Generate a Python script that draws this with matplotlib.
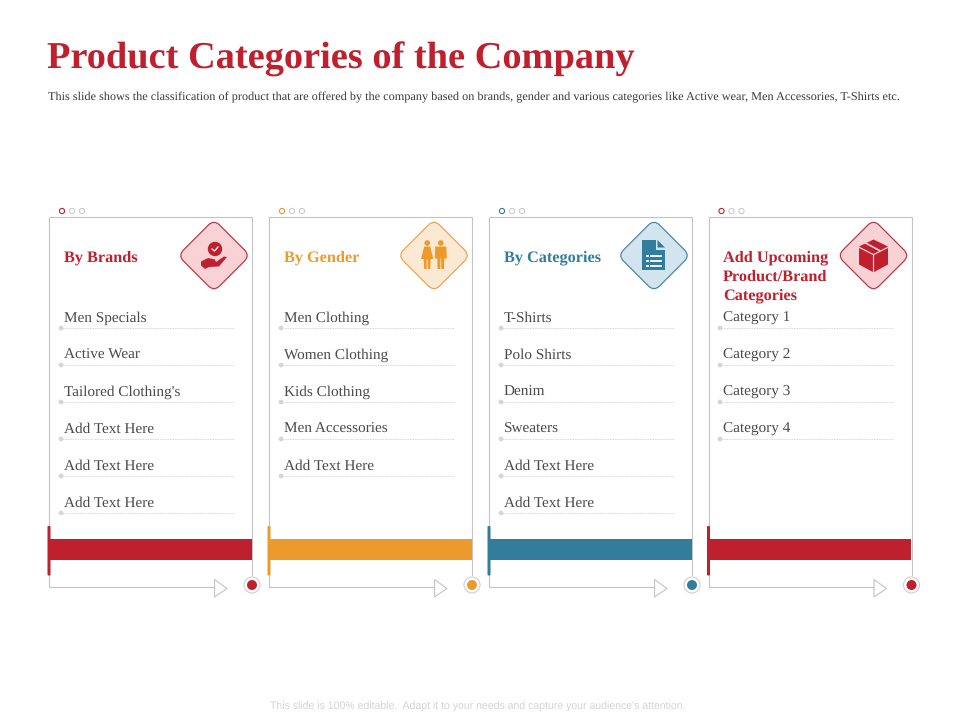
import matplotlib
matplotlib.use("Agg")
import matplotlib.pyplot as plt
from matplotlib.patches import Circle, FancyBboxPatch, Polygon, Rectangle
from matplotlib.transforms import Affine2D

plt.rcParams["text.hinting"] = "no_hinting"
plt.rcParams["text.hinting_factor"] = 8

TITLE = "Product Categories of the Company"
SUBTITLE = ("This slide shows the classification of product that are offered by the company based on brands, "
            "gender and various categories like Active wear, Men Accessories, T-Shirts etc.")
FOOTER = "This slide is 100% editable.  Adapt it to your needs and capture your audience's attention."
HEADINGS = [["By Brands"], ["By Gender"], ["By Categories"], ["Add Upcoming", "Product/Brand", "Categories"]]
ITEMS = [
    ["Men Specials", "Active Wear", "Tailored Clothing's", "Add Text Here", "Add Text Here", "Add Text Here"],
    ["Men Clothing", "Women Clothing", "Kids Clothing", "Men Accessories", "Add Text Here"],
    ["T-Shirts", "Polo Shirts", "Denim", "Sweaters", "Add Text Here", "Add Text Here"],
    ["Category 1", "Category 2", "Category 3", "Category 4"],
]
COLORS = ["#BE202E", "#ED9A2D", "#317D9B", "#BE202E"]
TINTS = ["#F8D2D5", "#FCE9D3", "#D2E5EE", "#F8D2D5"]
EDGES = ["#BE3A47", "#EDA550", "#4A89A5", "#BE3A47"]
LEFTS = [49, 269, 489, 708.5]

GREY = "#C4C4C4"
TEXT = "#4A4A4A"
SERIF = "Liberation Serif"

fig = plt.figure(figsize=(9.6, 7.2), dpi=100)
ax = fig.add_axes([0, 0, 1, 1])
ax.set_xlim(0, 960)
ax.set_ylim(720, 0)
ax.axis("off")

ax.text(47, 69, TITLE, color="#BE202E", family=SERIF, weight="bold", fontsize=27.6, va="baseline", ha="left")
ax.text(48, 100.5, SUBTITLE, color="#3A3A3A", family=SERIF, fontsize=8.85, va="baseline", ha="left")
ax.text(477.5, 707, FOOTER, color="#D4D4D4", family="Liberation Sans", fontsize=7.6, va="center", ha="center")


def icon_hand(cx, cy, c):
    ax.add_patch(Circle((cx + 1, cy - 6.5), 7.2, color=c, lw=0, zorder=5))
    ax.plot([cx - 2, cx + 0.5, cx + 4], [cy - 6.5, cy - 4.5, cy - 8.5], color="white", lw=0.9, zorder=6)
    ax.add_patch(Polygon([(cx - 13, cy + 6), (cx - 6, cy + 2.5), (cx + 1, cy + 4), (cx + 2, cy + 6.5),
                          (cx + 10, cy + 1), (cx + 13, cy + 1.5), (cx + 5, cy + 11), (cx - 5, cy + 11.5),
                          (cx - 9, cy + 13.5), (cx - 13, cy + 10)], color=c, lw=0, zorder=5))


def person(cx, cy, c, female):
    ax.add_patch(Circle((cx, cy - 12.5), 2.8, color=c, lw=0, zorder=5))
    if female:
        pts = [(cx - 3, cy - 9), (cx + 3, cy - 9), (cx + 6.2, cy + 3.5), (cx + 3.5, cy + 3.5), (cx + 3, cy + 13.5),
               (cx + .5, cy + 13.5), (cx + .5, cy + 4), (cx - .5, cy + 4), (cx - .5, cy + 13.5), (cx - 3, cy + 13.5),
               (cx - 3.5, cy + 3.5), (cx - 6.2, cy + 3.5)]
    else:
        pts = [(cx - 5.5, cy - 9), (cx + 5.5, cy - 9), (cx + 6, cy + 3), (cx + 3.5, cy + 3), (cx + 3.2, cy + 13.5),
               (cx + .5, cy + 13.5), (cx + .3, cy + 3), (cx - .3, cy + 3), (cx - .5, cy + 13.5), (cx - 3.2, cy + 13.5),
               (cx - 3.5, cy + 3), (cx - 6, cy + 3)]
    ax.add_patch(Polygon(pts, color=c, lw=0, zorder=5))


def icon_people(cx, cy, c):
    person(cx - 6.8, cy, c, True)
    person(cx + 6.8, cy, c, False)


def icon_doc(cx, cy, c):
    ax.add_patch(Polygon([(cx - 12, cy - 15.5), (cx + 1.5, cy - 15.5), (cx + 1.5, cy - 6), (cx + 11, cy - 6),
                          (cx + 11, cy + 14.5), (cx - 12, cy + 14.5)], color=c, lw=0, zorder=5))
    ax.add_patch(Polygon([(cx + 3.5, cy - 15.5), (cx + 11, cy - 8), (cx + 3.5, cy - 8)], color=c, lw=0, zorder=5))
    for dy in (0, 5, 10):
        ax.plot([cx - 7.5, cx - 6], [cy + dy] * 2, color="white", lw=1.3, zorder=6)
        ax.plot([cx - 3.5, cx + 6.5], [cy + dy] * 2, color="white", lw=1.3, zorder=6)


def icon_box(cx, cy, c):
    ax.add_patch(Polygon([(cx, cy - 16), (cx + 14.5, cy - 9), (cx, cy - 1.5), (cx - 14.5, cy - 9)], color=c, lw=0, zorder=5))
    ax.add_patch(Polygon([(cx - 14.5, cy - 7.5), (cx - 0.6, cy - 0.5), (cx - 0.6, cy + 16.5), (cx - 14.5, cy + 9)], color=c, lw=0, zorder=5))
    ax.add_patch(Polygon([(cx + 14.5, cy - 7.5), (cx + 0.6, cy - 0.5), (cx + 0.6, cy + 16.5), (cx + 14.5, cy + 9)], color=c, lw=0, zorder=5))
    ax.plot([cx - 8, cx + 6], [cy - 12.5, cy - 5], color=TINTS[0], lw=1.2, zorder=6)


ICONS = [icon_hand, icon_people, icon_doc, icon_box]
TOP, BOTTOM, WIDTH = 217, 587, 203

for i, (left, heading, items) in enumerate(zip(LEFTS, HEADINGS, ITEMS)):
    c = COLORS[i]
    right = left + WIDTH
    ax.plot([right, right, left, left, left + 165.5], [575, TOP, TOP, BOTTOM, BOTTOM], color=GREY, lw=0.8, zorder=1)
    ax.add_patch(Polygon([(left + 165.5, 579.5), (left + 178, 588.5), (left + 165.5, 597)],
                         fc="white", ec=GREY, lw=0.8, zorder=2))
    for j in range(3):
        ax.add_patch(Circle((left + 13 + 10 * j, 211), 2.6, fc="white",
                            ec=c if j == 0 else "#CCCCCC", lw=0.8, zorder=3))
    ax.add_patch(Rectangle((left - 0.5, 539), WIDTH, 21, color=c, lw=0, zorder=3))
    ax.add_patch(FancyBboxPatch((left - 1.5, 526), 3, 49.5, boxstyle="round,pad=0,rounding_size=1",
                                color=c, lw=0, zorder=3))
    ax.add_patch(Circle((right, 585), 8, fc="white", ec="#CFCFCF", lw=0.8, zorder=3))
    ax.add_patch(Circle((right, 585), 5, color=c, lw=0, zorder=4))
    cx, cy = left + 165, 255.5
    h = 25.5
    rot = Affine2D().rotate_deg_around(cx, cy, 45) + ax.transData
    ax.add_patch(FancyBboxPatch((cx - h, cy - h), 2 * h, 2 * h,
                                boxstyle="round,pad=0,rounding_size=8", fc=TINTS[i], ec=EDGES[i],
                                lw=0.9, transform=rot, zorder=4))
    ICONS[i](cx, cy, c)
    tx = left + 15 if i < 3 else left + 14.5
    for n, line in enumerate(heading):
        ax.text(tx, 261.5 + 19 * n, line, color=c, family=SERIF, weight="bold", fontsize=11.7,
                va="baseline", ha="left", zorder=5)
    for k, item in enumerate(items):
        y = 318 + 37 * k
        ax.text(tx, y + 4, item, color=TEXT, family=SERIF, fontsize=11, va="baseline", ha="left", zorder=5)
        ax.plot([tx - 2, tx + 170], [y + 10] * 2, color="#D6D6D6", lw=0.6, ls=(0, (2, 1)), zorder=2)
        ax.add_patch(Circle((tx - 3, y + 10), 2.4, color="#D6D6D6", lw=0, zorder=3))

fig.savefig("out.png", dpi=100, facecolor="white")
